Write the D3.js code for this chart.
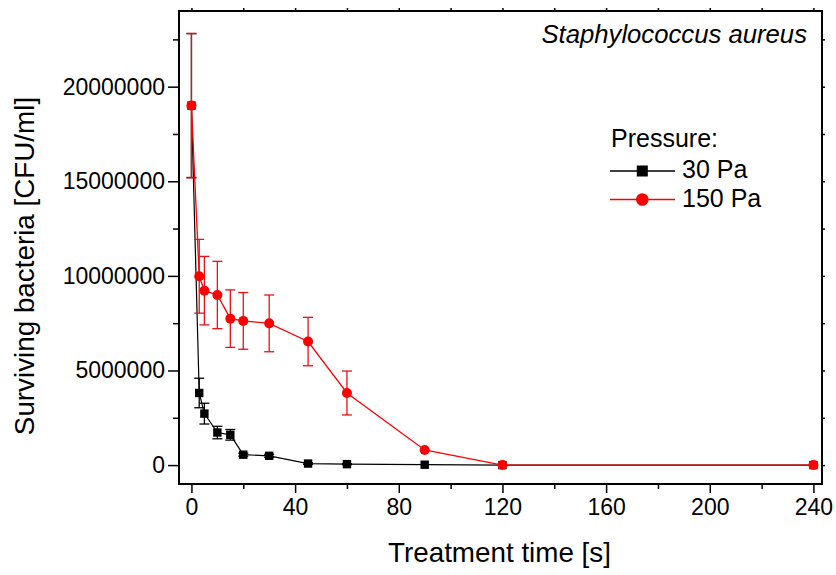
<!DOCTYPE html>
<html><head><meta charset="utf-8">
<script src="https://cdn.jsdelivr.net/npm/d3@7"></script>
<style>
body{margin:0;background:#fff;}
svg{display:block;font-family:"Liberation Sans",Arial,sans-serif;}
</style></head>
<body>
<script>
// ---- data ----
const times = [0, 3, 5, 10, 15, 20, 30, 45, 60, 90, 120, 240];
const p30 = [19000000, 3810000, 2720000, 1720000, 1600000, 550000, 490000, 80000, 50000, 20000, 0, 0];
const p30err = [3800000, 780000, 550000, 330000, 280000, 80000, 80000, 40000, 30000, 0, 0, 0];
const p150 = [19000000, 9980000, 9220000, 8990000, 7740000, 7620000, 7490000, 6530000, 3810000, 800000, 0, 0];
const p150err = [3820000, 1950000, 1810000, 1780000, 1520000, 1500000, 1500000, 1280000, 1160000, 0, 0, 0];
const xMajor = [0, 40, 80, 120, 160, 200, 240];
const xMinor = [20, 60, 100, 140, 180, 220];
const yMajor = [0, 5000000, 10000000, 15000000, 20000000];
const yMinor = [2500000, 7500000, 12500000, 17500000, 22500000];
const seriesNames = ["30 Pa", "150 Pa"];

const W = 836, H = 575;
const L = 179, R = 822, T = 11, B = 484;
const svg = d3.select("body").append("svg").attr("width", W).attr("height", H);

const x = d3.scaleLinear().domain([-4.8, 243.3]).range([L, R]);
const y = d3.scaleLinear().domain([-1000000, 24000000]).range([B, T]);

// axes
function styleAxis(g){ g.select(".domain").remove(); g.selectAll("line").attr("stroke","#000").attr("stroke-width",1.5); }
const fs = 23;
svg.append("g").attr("transform",`translate(${L},0)`)
  .call(d3.axisLeft(y).tickValues(yMajor).tickSize(11).tickPadding(3).tickFormat(d3.format("d")))
  .call(styleAxis)
  .call(g=>g.selectAll("text").attr("font-size",fs).attr("fill","#000").attr("font-family","Liberation Sans, Arial"));
svg.append("g").attr("transform",`translate(${L},0)`)
  .call(d3.axisLeft(y).tickValues(yMinor).tickSize(6).tickFormat(""))
  .call(styleAxis);
svg.append("g").attr("transform",`translate(0,${B})`)
  .call(d3.axisBottom(x).tickValues(xMajor).tickSize(9).tickPadding(6).tickFormat(d3.format("d")))
  .call(styleAxis)
  .call(g=>g.selectAll("text").attr("font-size",fs).attr("fill","#000").attr("font-family","Liberation Sans, Arial"));
svg.append("g").attr("transform",`translate(0,${B})`)
  .call(d3.axisBottom(x).tickValues(xMinor).tickSize(5).tickFormat(""))
  .call(styleAxis);
// mirrored short ticks on top and right
svg.append("g").attr("transform",`translate(0,${T})`)
  .call(d3.axisTop(x).tickValues(xMajor.concat(xMinor)).tickSize(3).tickFormat(""))
  .call(styleAxis);
svg.append("g").attr("transform",`translate(${R},0)`)
  .call(d3.axisRight(y).tickValues(yMajor.concat(yMinor)).tickSize(3).tickFormat(""))
  .call(styleAxis);

// frame
svg.append("rect").attr("x",L).attr("y",T).attr("width",R-L).attr("height",B-T)
  .attr("fill","none").attr("stroke","#000").attr("stroke-width",2);

const plot = svg.append("g");
const line = d3.line().x((d,i)=>x(times[i])).y(d=>y(d));

function errBars(vals, errs, color){
  const g = plot.append("g").attr("stroke",color).attr("stroke-width",1.3);
  vals.forEach((v,i)=>{
    const e = errs[i]; if(!e) return;
    const xx = x(times[i]);
    g.append("line").attr("x1",xx).attr("x2",xx).attr("y1",y(v-e)).attr("y2",y(v+e));
    g.append("line").attr("x1",xx-5).attr("x2",xx+5).attr("y1",y(v-e)).attr("y2",y(v-e));
    g.append("line").attr("x1",xx-5).attr("x2",xx+5).attr("y1",y(v+e)).attr("y2",y(v+e));
  });
}

// black series
plot.append("path").datum(p30).attr("d",line).attr("fill","none").attr("stroke","#000").attr("stroke-width",1.2);
errBars(p30, p30err, "#000");
plot.append("g").selectAll("rect").data(p30).join("rect")
  .attr("x",(d,i)=>x(times[i])-4.2).attr("y",d=>y(d)-4.2).attr("width",8.4).attr("height",8.4).attr("fill","#000");

// red series
plot.append("path").datum(p150).attr("d",line).attr("fill","none").attr("stroke","#ff0000").attr("stroke-width",1.3);
errBars(p150, p150err, "#e81010");
plot.append("g").selectAll("circle").data(p150).join("circle")
  .attr("cx",(d,i)=>x(times[i])).attr("cy",d=>y(d)).attr("r",5).attr("fill","#ff0000");

// axis titles
svg.append("text").attr("x",(L+R)/2-1).attr("y",562).attr("text-anchor","middle")
  .attr("font-size",27.8).text("Treatment time [s]");
svg.append("text").attr("transform",`translate(34,266) rotate(-90)`).attr("text-anchor","middle")
  .attr("font-size",27.8).text("Surviving bacteria [CFU/ml]");

// species label
svg.append("text").attr("x",807).attr("y",43).attr("text-anchor","end")
  .attr("font-size",25.7).attr("font-style","italic").text("Staphylococcus aureus");

// legend
const lg = svg.append("g");
lg.append("text").attr("x",611).attr("y",147).attr("font-size",25).text("Pressure:");
const legY = [171, 199.5];
const legCol = ["#000", "#ff0000"];
seriesNames.forEach((n,i)=>{
  lg.append("line").attr("x1",610).attr("x2",675).attr("y1",legY[i]).attr("y2",legY[i])
    .attr("stroke",legCol[i]).attr("stroke-width",1.3);
  if(i===0) lg.append("rect").attr("x",642.3-5.5).attr("y",legY[i]-5.5).attr("width",11).attr("height",11).attr("fill","#000");
  else lg.append("circle").attr("cx",642.3).attr("cy",legY[i]).attr("r",6.3).attr("fill","#ff0000");
  lg.append("text").attr("x",682).attr("y",legY[i]+6.5+ (i?1:0)).attr("font-size",25).text(n);
});
</script>
</body></html>
